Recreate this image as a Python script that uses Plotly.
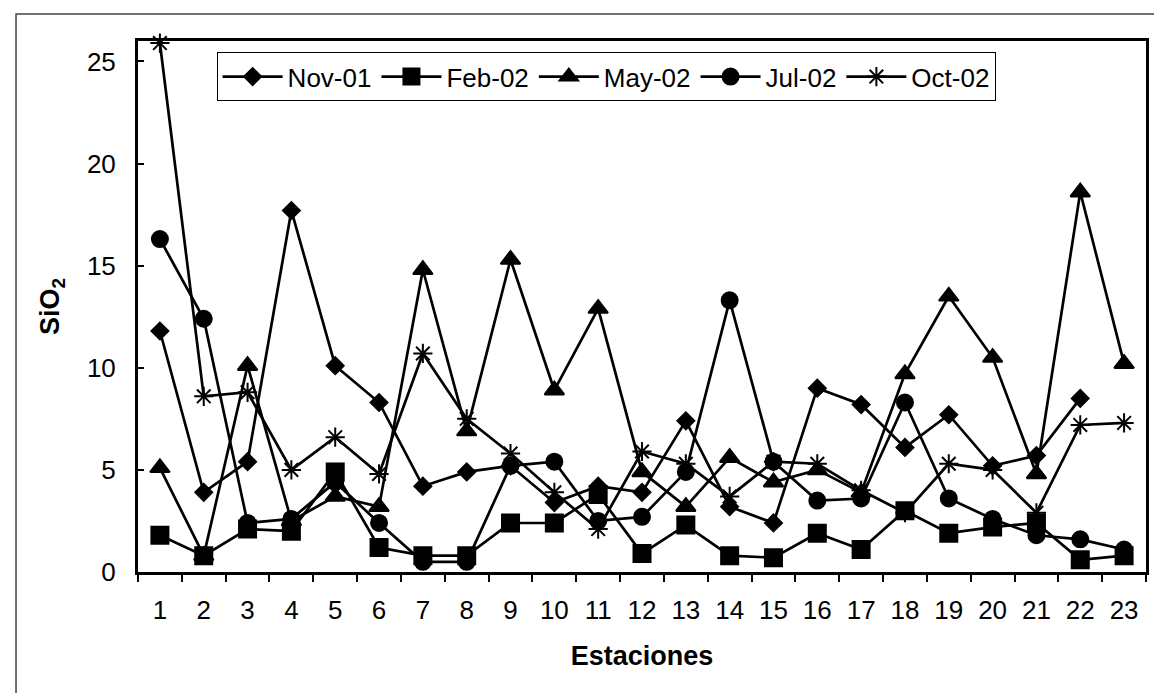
import plotly.graph_objects as go

stations = ["1", "2", "3", "4", "5", "6", "7", "8", "9", "10", "11", "12",
            "13", "14", "15", "16", "17", "18", "19", "20", "21", "22", "23"]

nov01 = [11.8, 3.9, 5.4, 17.7, 10.1, 8.3, 4.2, 4.9, 5.2, 3.4, 4.2, 3.9,
         7.4, 3.2, 2.4, 9.0, 8.2, 6.1, 7.7, 5.2, 5.7, 8.5, None]
feb02 = [1.8, 0.8, 2.1, 2.0, 4.9, 1.2, 0.8, 0.8, 2.4, 2.4, 3.8, 0.9,
         2.3, 0.8, 0.7, 1.9, 1.1, 3.0, 1.9, 2.2, 2.4, 0.6, 0.8]
may02 = [5.1, 0.8, 10.1, 2.5, 3.7, 3.2, 14.8, 6.9, 15.3, 8.9, 12.9, 4.9,
         3.2, 5.6, 4.4, 5.0, 3.9, 9.7, 13.5, 10.5, 4.8, 18.6, 10.2]
jul02 = [16.3, 12.4, 2.4, 2.6, 4.4, 2.4, 0.5, 0.5, 5.2, 5.4, 2.5, 2.7,
         4.9, 13.3, 5.4, 3.5, 3.6, 8.3, 3.6, 2.6, 1.8, 1.6, 1.1]
oct02 = [25.9, 8.6, 8.8, 5.0, 6.6, 4.8, 10.7, 7.5, 5.8, 3.9, 2.1, 5.9,
         5.3, 3.7, 5.4, 5.3, 4.0, 2.9, 5.3, 5.0, 2.9, 7.2, 7.3]

series = [
    ("Nov-01", nov01, "diamond", 13),
    ("Feb-02", feb02, "square", 17),
    ("May-02", may02, "triangle-up", 17),
    ("Jul-02", jul02, "circle", 16),
    ("Oct-02", oct02, "asterisk-open", 16),
]

FONT = "Liberation Sans, Arial, sans-serif"

fig = go.Figure()
for name, vals, sym, size in series:
    fig.add_trace(go.Scatter(
        x=stations, y=vals, name=name, mode="lines+markers",
        line=dict(color="black", width=2.7),
        marker=dict(symbol=sym, size=size, color="black",
                    line=dict(color="black", width=2)),
        cliponaxis=False,
    ))

fig.update_layout(
    width=1162, height=693,
    margin=dict(l=130, r=24, t=33, b=129),
    paper_bgcolor="white", plot_bgcolor="white",
    font=dict(family=FONT, size=26, color="black"),
    showlegend=True,
    legend=dict(
        orientation="h", x=0.078, y=0.979, xanchor="left", yanchor="top",
        bgcolor="white", bordercolor="black", borderwidth=1,
        font=dict(size=26), itemwidth=60,
    ),
    xaxis=dict(
        type="category", range=[-0.5, 22.5],
        showline=True, linecolor="black", linewidth=3, mirror=True,
        ticks="outside", tickson="boundaries", ticklen=7, tickwidth=1.5,
        tickcolor="black", showgrid=False, zeroline=False,
        tickfont=dict(size=26), ticklabelstandoff=13,
        title=dict(text="<b>Estaciones</b>", font=dict(size=27), standoff=22),
    ),
    yaxis=dict(
        range=[0, 26.0], tickvals=[0, 5, 10, 15, 20, 25],
        showline=True, linecolor="black", linewidth=3, mirror=True,
        ticks="inside", ticklen=6, tickwidth=1.5, tickcolor="black",
        showgrid=False, zeroline=False,
        tickfont=dict(size=26), ticklabelstandoff=14,
        title=dict(text="<b>SiO<sub>2</sub></b>", font=dict(size=27), standoff=20),
    ),
    shapes=[dict(
        type="rect", xref="paper", yref="paper",
        x0=-0.121, x1=1.0195, y0=-0.241, y1=1.0508,
        line=dict(color="#444", width=1.5), fillcolor="rgba(0,0,0,0)",
        layer="below",
    )],
)

fig.write_html("out.html")
